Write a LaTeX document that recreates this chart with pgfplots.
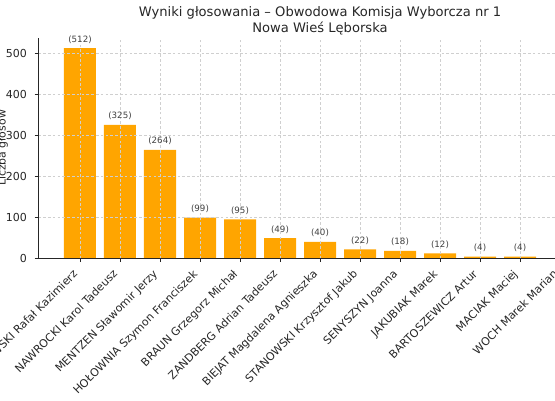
\documentclass[border=0pt]{standalone}
\usepackage{fontspec}
\setmainfont{DejaVu Sans}
\usepackage{pgfplots}
\pgfplotsset{compat=1.18}
\definecolor{barorange}{HTML}{FFA500}
\definecolor{gridgray}{HTML}{CFCFCF}
\definecolor{txt}{HTML}{262626}

\begin{document}
\begin{tikzpicture}
\begin{axis}[
  at={(38.4pt,141.7pt)}, anchor=south west,
  scale only axis, width=563.2pt, height=220.7pt,
  xmin=-1.04, xmax=13.04, ymin=0, ymax=537.6,
  axis lines*=left,
  axis line style={line width=0.87pt, color=black!85},
  axis on top,
  xtick={0,...,12},
  xticklabels={TRZASKOWSKI Rafał Kazimierz, NAWROCKI Karol Tadeusz, MENTZEN Sławomir Jerzy, HOŁOWNIA Szymon Franciszek, BRAUN Grzegorz Michał, ZANDBERG Adrian Tadeusz, BIEJAT Magdalena Agnieszka, STANOWSKI Krzysztof Jakub, SENYSZYN Joanna, JAKUBIAK Marek, BARTOSZEWICZ Artur, MACIAK Maciej, WOCH Marek Marian},
  ytick={0,100,...,500},
  tick align=outside, major tick length=3.8pt,
  tick style={line width=0.87pt, color=black!85},
  grid=major,
  major grid style={gridgray, line width=0.6pt, dash pattern=on 2.6pt off 2.2pt},
  /pgf/number format/assume math mode=true,
  tick label style={font=\fontsize{11}{13}\selectfont, text=txt},
  xticklabel style={inner sep=0pt, xshift=-1.8pt, yshift=-12.6pt, rotate=45, anchor=base east},
  yticklabel style={inner sep=0pt, anchor=east, xshift=-7.6pt},
]
% glosy na kandydata
\addplot[ybar, bar width=0.8, fill=barorange, draw=none,
  nodes near coords={(\pgfmathprintnumber{\pgfplotspointmeta})},
  every node near coord/.append style={anchor=base, inner sep=0pt, yshift=6pt,
    font=\fontsize{8.7}{10}\selectfont, text=black!75}] coordinates {
  (0,512) (1,325) (2,264) (3,99) (4,95) (5,49) (6,40)
  (7,22) (8,18) (9,12) (10,4) (11,4)
};
% WOCH - poza kadrem
\addplot[ybar, bar width=0.8, fill=barorange, draw=none] coordinates {(12,0)};
\end{axis}
\node[rotate=90, anchor=base, font=\fontsize{10.9}{13}\selectfont, text=txt]
  at (5.6pt,252pt) {Liczba głosów};
\node[anchor=base, font=\fontsize{13.1}{15}\selectfont, text=txt]
  at (320pt,383pt) {Wyniki głosowania – Obwodowa Komisja Wyborcza nr 1};
\node[anchor=base, font=\fontsize{13.1}{15}\selectfont, text=txt]
  at (320pt,367.7pt) {Nowa Wieś Lęborska};
\pgfresetboundingbox
\path[use as bounding box] (0,0) rectangle (555pt,400pt);
\end{tikzpicture}
\end{document}
